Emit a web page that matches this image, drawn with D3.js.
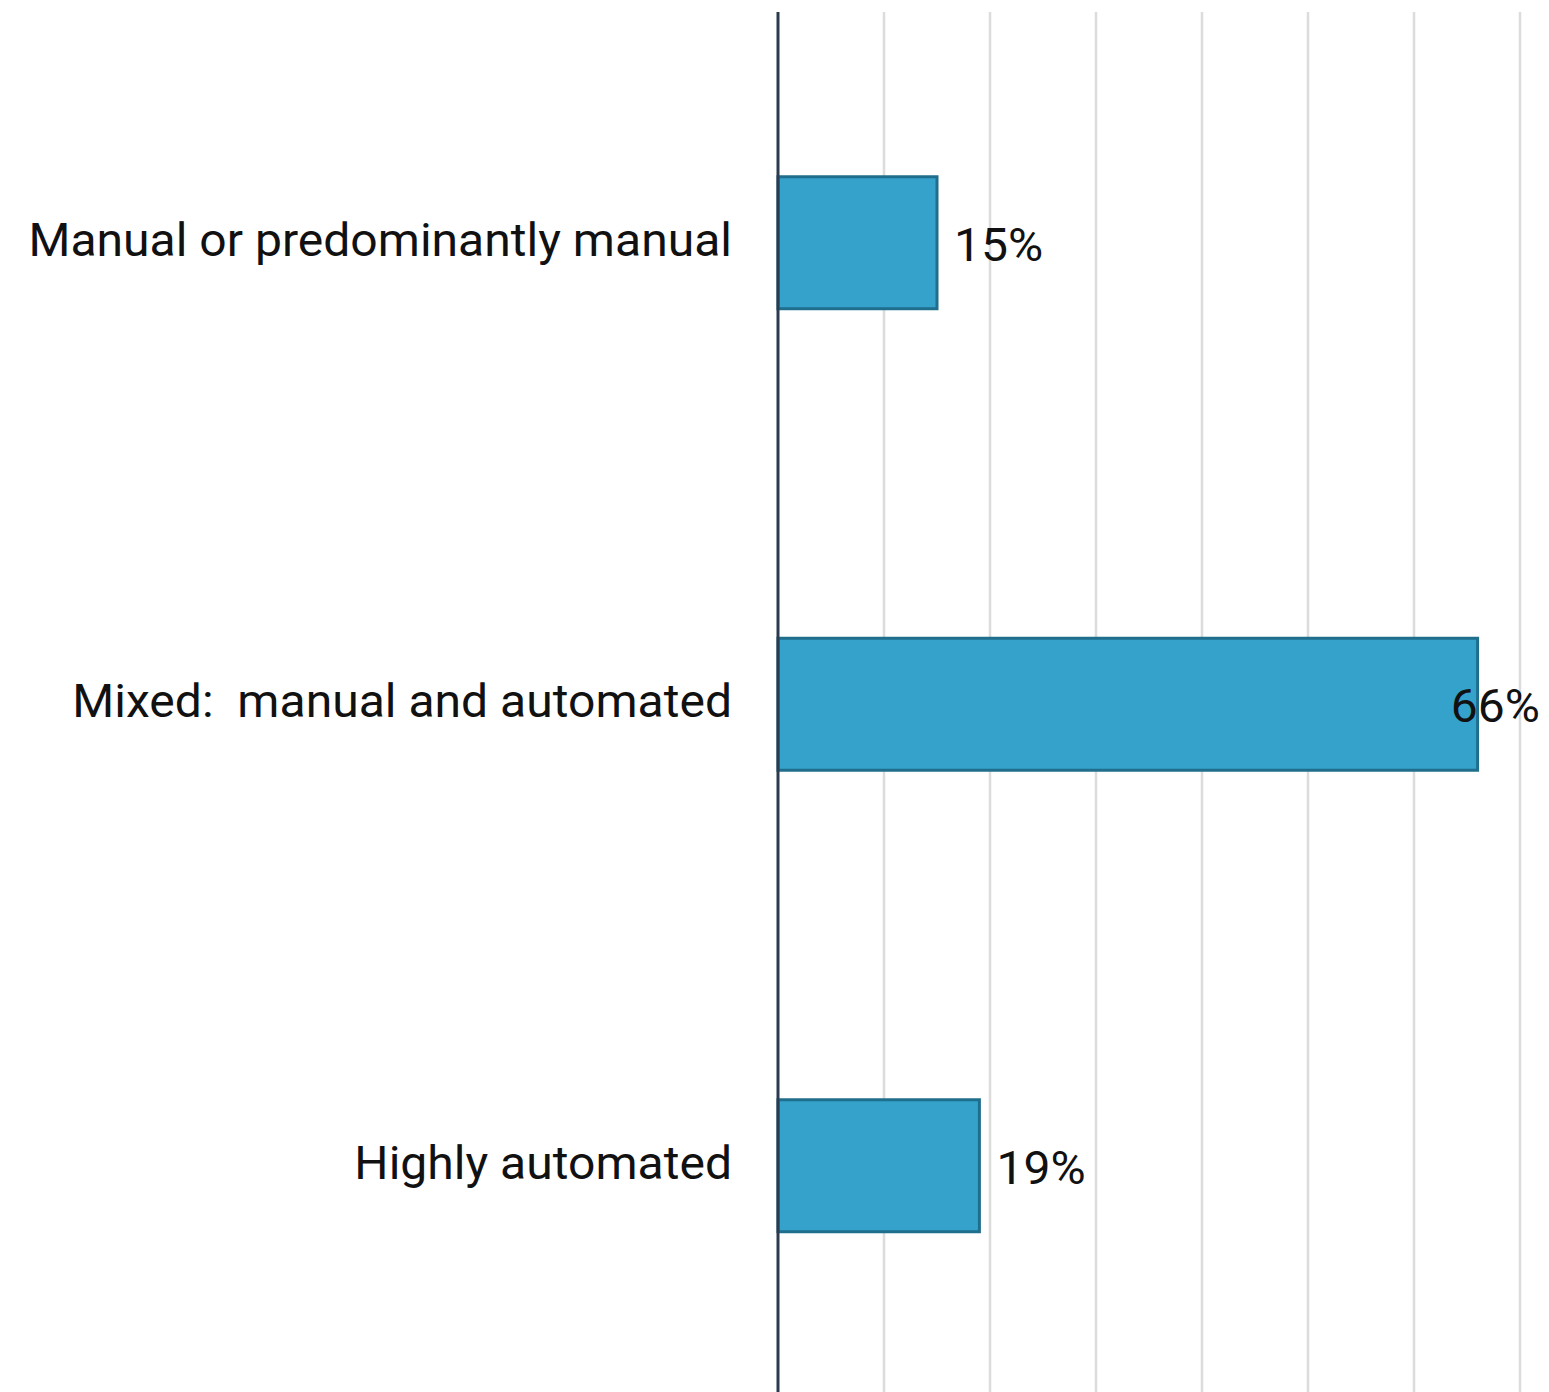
<!DOCTYPE html>
<html>
<head>
<meta charset="utf-8">
<script src="https://cdn.jsdelivr.net/npm/d3@7"></script>
<style>
  html, body { margin: 0; padding: 0; background: #fff; }
  svg { display: block; font-family: Roboto, "Noto Sans", sans-serif; }
  text { white-space: pre; }
</style>
</head>
<body>
<div id="chart"></div>
<script>
// --- Data ---
const categories = ["Manual or predominantly manual", "Mixed:  manual and automated", "Highly automated"];
const values = [15, 66, 19];
const gridTicks = [0, 10, 20, 30, 40, 50, 60, 70];

// --- Dimensions ---
const W = 1549, H = 1392;
const margin = { top: 12, right: 29, left: 778 };
const stretch = 1.045; // text in the original is a touch wider than Roboto

const svg = d3.select("#chart")
  .append("svg")
  .attr("width", W)
  .attr("height", H);

const x = d3.scaleLinear()
  .domain([0, 70])
  .range([margin.left, W - margin.right]);

const y = d3.scaleBand()
  .domain(categories)
  .range([margin.top, margin.top + 1384.5])
  .paddingInner(0.714)
  .paddingOuter(0.357);

// gridlines
svg.append("g")
  .selectAll("line")
  .data(gridTicks.slice(1))
  .join("line")
  .attr("x1", d => x(d))
  .attr("x2", d => x(d))
  .attr("y1", margin.top)
  .attr("y2", H)
  .attr("stroke", "#dcdcdc")
  .attr("stroke-width", 2.5);

// bars
const data = categories.map((c, i) => ({ cat: c, v: values[i] }));

svg.append("g")
  .selectAll("rect")
  .data(data)
  .join("rect")
  .attr("x", x(0))
  .attr("y", d => y(d.cat))
  .attr("width", d => x(d.v) - x(0))
  .attr("height", y.bandwidth())
  .attr("fill", "#35a2cc")
  .attr("stroke", "#1f6e8c")
  .attr("stroke-width", 3);

// axis line
svg.append("line")
  .attr("x1", x(0))
  .attr("x2", x(0))
  .attr("y1", margin.top)
  .attr("y2", H)
  .attr("stroke", "#2b3a4e")
  .attr("stroke-width", 3);

// category labels
svg.append("g")
  .selectAll("text")
  .data(data)
  .join("text")
  .attr("transform", d => `translate(${x(0) - 46},${y(d.cat) + y.bandwidth() / 2}) scale(${stretch},1)`)
  .attr("dy", "0.28em")
  .attr("text-anchor", "end")
  .attr("font-size", 46)
  .attr("fill", "#111")
  .text(d => d.cat);

// value labels (kept inside the right edge)
svg.append("g")
  .selectAll("text")
  .data(data)
  .join("text")
  .attr("dy", "0.39em")
  .attr("font-size", 46)
  .attr("fill", "#111")
  .text(d => d.v + "%")
  .each(function (d) {
    const w = this.getComputedTextLength() * stretch;
    let px = x(d.v) + 17;
    if (px + w > W - 9) px = W - 9 - w;
    d3.select(this)
      .attr("transform", `translate(${px},${y(d.cat) + y.bandwidth() / 2}) scale(${stretch},1)`);
  });
</script>
</body>
</html>
